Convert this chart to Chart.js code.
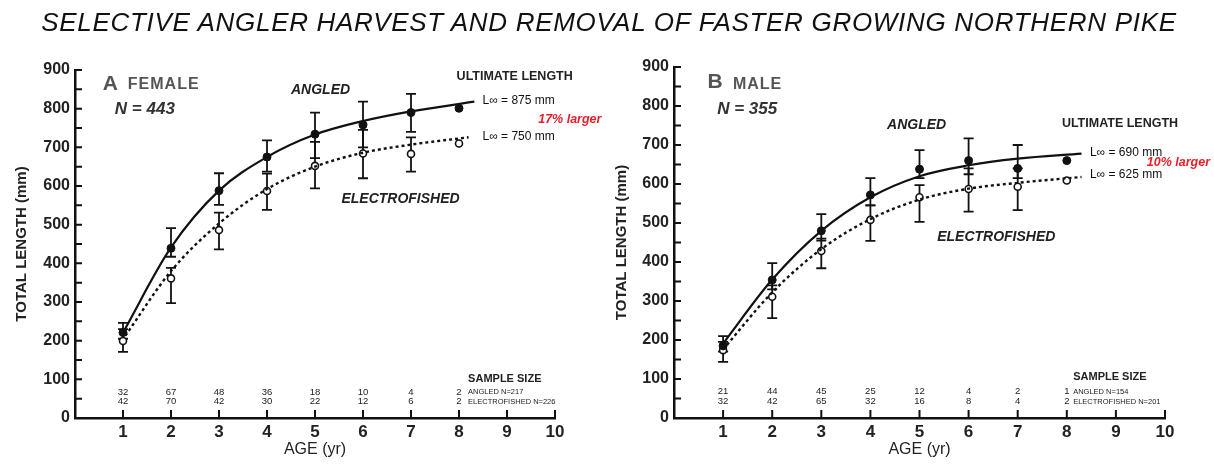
<!DOCTYPE html>
<html>
<head>
<meta charset="utf-8">
<script src="https://cdn.jsdelivr.net/npm/chart.js@4.4.1/dist/chart.umd.min.js"></script>
<style>
  body { margin: 0; background: #fff; width: 1214px; height: 464px; overflow: hidden; position: relative;
         font-family: "Liberation Sans", Arial, sans-serif; }
  #title { position: absolute; left: 0; top: 8px; width: 1218px; text-align: center; font-style: italic;
           font-size: 26px; line-height: 28px; letter-spacing: 0.7px; color: #111; z-index: 2; }
  .panel { position: absolute; top: 0; }
  .panel canvas { display: block; }
</style>
</head>
<body>
<div id="title">SELECTIVE ANGLER HARVEST AND REMOVAL OF FASTER GROWING NORTHERN PIKE</div>
<div class="panel" style="left:0"><canvas id="femaleChart" width="607" height="464"></canvas></div>
<div class="panel" style="left:607px"><canvas id="maleChart" width="607" height="464"></canvas></div>
<script>
// ages with measured means
const ages = [1, 2, 3, 4, 5, 6, 7, 8];

// A - female
const femaleAngled = [221, 439, 588, 675, 734, 758, 790, 801];
const femaleAngledLow = [205, 417, 551, 637, 672, 700, 740, null];
const femaleAngledHigh = [246, 491, 633, 718, 790, 818, 838, null];
const femaleElectro = [199, 361, 486, 587, 652, 684, 683, 710];
const femaleElectroLow = [171, 297, 436, 538, 594, 620, 637, null];
const femaleElectroHigh = [230, 388, 531, 632, 714, 745, 726, null];
const femaleAngledFitAge = [1, 2, 3, 4, 5, 6, 7, 8.32];
const femaleAngledFit = [221, 441, 588, 675, 733, 768, 793, 818];
const femaleElectroFitAge = [1.05, 2, 3, 4, 5, 6, 7, 8.2];
const femaleElectroFit = [213, 380, 503, 592, 650, 686, 707, 726];
const femaleAngledN = [32, 67, 48, 36, 18, 10, 4, 2];
const femaleElectroN = [42, 70, 42, 30, 22, 12, 6, 2];

// B - male
const maleAngled = [185, 354, 480, 572, 638, 660, 640, 660];
const maleAngledLow = [170, 330, 455, 545, 615, 625, 615, null];
const maleAngledHigh = [210, 397, 523, 615, 687, 717, 700, null];
const maleElectro = [174, 311, 428, 508, 566, 587, 593, 609];
const maleElectroLow = [144, 256, 384, 454, 503, 529, 533, null];
const maleElectroHigh = [195, 340, 460, 545, 597, 640, 640, null];
const maleAngledFitAge = [1, 2, 3, 4, 5, 6, 7, 8.3];
const maleAngledFit = [191, 355, 480, 566, 620, 648, 665, 678];
const maleElectroFitAge = [1, 2, 3, 4, 5, 6, 7, 8.3];
const maleElectroFit = [176, 322, 433, 510, 560, 588, 603, 618];
const maleAngledN = [21, 44, 45, 25, 12, 4, 2, 1];
const maleElectroN = [32, 42, 65, 32, 16, 8, 4, 2];

const FONT = '"Liberation Sans", Arial, sans-serif';
const INK = '#111';

function pts(xs, ys) {
    return xs.map((a, i) => ({ x: a, y: ys[i] }));
}

function panelPlugin(p) {
    return {
        id: 'panelExtras',
        beforeDatasetsDraw(chart) {
            const { ctx, scales: { x, y } } = chart;
            ctx.save();
            ctx.strokeStyle = INK;
            ctx.lineWidth = 1.8;
            [[p.angledLow, p.angledHigh], [p.electroLow, p.electroHigh]].forEach(([lo, hi]) => {
                ages.forEach((a, i) => {
                    if (lo[i] == null) return;
                    const px = x.getPixelForValue(a);
                    const y1 = y.getPixelForValue(lo[i]);
                    const y2 = y.getPixelForValue(hi[i]);
                    ctx.beginPath();
                    ctx.moveTo(px, y1); ctx.lineTo(px, y2);
                    ctx.moveTo(px - 5, y1); ctx.lineTo(px + 5, y1);
                    ctx.moveTo(px - 5, y2); ctx.lineTo(px + 5, y2);
                    ctx.stroke();
                });
            });
            ctx.restore();
        },
        afterDraw(chart) {
            const { ctx, chartArea, scales: { x, y } } = chart;
            ctx.save();
            // inward tick marks
            ctx.strokeStyle = INK;
            ctx.lineWidth = 2;
            ctx.beginPath();
            y.ticks.forEach(t => {
                const py = y.getPixelForValue(t.value);
                ctx.moveTo(chartArea.left, py);
                ctx.lineTo(chartArea.left + 7, py);
            });
            x.ticks.forEach(t => {
                if (t.value === 0) return;
                const px = x.getPixelForValue(t.value);
                ctx.moveTo(px, chartArea.bottom);
                ctx.lineTo(px, chartArea.bottom - 8);
            });
            ctx.stroke();

            // sample sizes
            ctx.textAlign = 'center';
            ctx.textBaseline = 'middle';
            ctx.fillStyle = '#222';
            ctx.font = '9.5px ' + FONT;
            ages.forEach((a, i) => {
                ctx.fillText(p.angledN[i], x.getPixelForValue(a), y.getPixelForValue(67));
                ctx.fillText(p.electroN[i], x.getPixelForValue(a), y.getPixelForValue(42));
            });

            // annotations
            p.notes.forEach(n => {
                const [str, a, v, font, color, spacing] = n;
                ctx.font = font + ' ' + FONT;
                ctx.fillStyle = color;
                ctx.textAlign = 'left';
                ctx.letterSpacing = (spacing || 0) + 'px';
                ctx.fillText(str, x.getPixelForValue(a), y.getPixelForValue(v));
            });
            ctx.restore();
        }
    };
}

function makeChart(canvasId, p) {
    return new Chart(document.getElementById(canvasId), {
        type: 'scatter',
        data: {
            datasets: [
                {
                    data: pts(p.angledFitAge, p.angledFit), showLine: true, borderColor: INK,
                    borderWidth: 2.2, pointRadius: 0, cubicInterpolationMode: 'monotone'
                },
                {
                    data: pts(p.electroFitAge, p.electroFit), showLine: true, borderColor: INK,
                    borderWidth: 2.4, borderDash: [3, 3], pointRadius: 0, cubicInterpolationMode: 'monotone'
                },
                {
                    data: pts(ages, p.angled), pointRadius: 4, pointBackgroundColor: INK,
                    pointBorderColor: INK, pointBorderWidth: 1
                },
                {
                    data: pts(ages, p.electro), pointRadius: 3.5, pointBackgroundColor: '#fff',
                    pointBorderColor: INK, pointBorderWidth: 1.6
                }
            ]
        },
        options: {
            responsive: false,
            animation: false,
            layout: { padding: { top: p.top, right: p.right, left: 0, bottom: 0 } },
            plugins: { legend: { display: false }, tooltip: { enabled: false } },
            scales: {
                x: {
                    type: 'linear', min: 0, max: 10,
                    afterFit: s => { s.height = 464 - p.bottom; },
                    grid: { display: false, drawTicks: false },
                    border: { color: INK, width: 2.5 },
                    ticks: {
                        stepSize: 1, padding: 4, color: '#222', maxRotation: 0, autoSkip: false,
                        font: { family: FONT, size: 17, weight: 'bold' },
                        callback: v => v === 0 ? '' : v
                    },
                    title: {
                        display: true, text: 'AGE (yr)', color: '#222',
                        font: { family: FONT, size: 16 }, padding: { bottom: 5 }
                    }
                },
                y: {
                    min: 0, max: 900,
                    afterFit: s => { s.width = p.left; },
                    grid: { display: false, drawTicks: false },
                    border: { color: INK, width: 2.5 },
                    ticks: {
                        stepSize: 50, padding: 5, color: '#222', autoSkip: false,
                        font: { family: FONT, size: 16, weight: 'bold' },
                        callback: v => v % 100 === 0 ? v : ''
                    },
                    title: {
                        display: true, text: 'TOTAL LENGTH (mm)', color: '#222',
                        font: { family: FONT, size: 15, weight: 'bold' }, padding: { top: p.yTitlePad }
                    }
                }
            }
        },
        plugins: [panelPlugin(p)]
    });
}

makeChart('femaleChart', {
    angled: femaleAngled, angledLow: femaleAngledLow, angledHigh: femaleAngledHigh,
    electro: femaleElectro, electroLow: femaleElectroLow, electroHigh: femaleElectroHigh,
    angledFitAge: femaleAngledFitAge, angledFit: femaleAngledFit,
    electroFitAge: femaleElectroFitAge, electroFit: femaleElectroFit,
    angledN: femaleAngledN, electroN: femaleElectroN,
    top: 70, bottom: 418, left: 75, right: 52, yTitlePad: 13,
    notes: [
        ['A', 0.58, 864, 'bold 21px', '#555'],
        ['FEMALE', 1.10, 861, 'bold 16px', '#555', 1],
        ['N = 443', 0.83, 798, 'italic bold 17px', '#333'],
        ['ANGLED', 4.5, 847, 'italic bold 14px', '#222'],
        ['ELECTROFISHED', 5.55, 566, 'italic bold 14px', '#222'],
        ['ULTIMATE LENGTH', 7.95, 884, 'bold 12.5px', '#222'],
        ['L\u221E = 875 mm', 8.49, 820, '12px', INK],
        ['17% larger', 9.65, 771, 'italic bold 12.5px', '#e8202a'],
        ['L\u221E = 750 mm', 8.49, 727, '12px', INK],
        ['SAMPLE SIZE', 8.19, 102, 'bold 11px', '#222'],
        ['ANGLED N=217', 8.19, 67, '7.5px', '#222'],
        ['ELECTROFISHED N=226', 8.19, 41, '7.5px', '#222']
    ]
});

makeChart('maleChart', {
    angled: maleAngled, angledLow: maleAngledLow, angledHigh: maleAngledHigh,
    electro: maleElectro, electroLow: maleElectroLow, electroHigh: maleElectroHigh,
    angledFitAge: maleAngledFitAge, angledFit: maleAngledFit,
    electroFitAge: maleElectroFitAge, electroFit: maleElectroFit,
    angledN: maleAngledN, electroN: maleElectroN,
    top: 67, bottom: 418, left: 67, right: 49, yTitlePad: 6,
    notes: [
        ['B', 0.68, 861, 'bold 21px', '#555'],
        ['MALE', 1.20, 854, 'bold 16px', '#555', 1],
        ['N = 355', 0.88, 792, 'italic bold 17px', '#333'],
        ['ANGLED', 4.34, 750, 'italic bold 14px', '#222'],
        ['ELECTROFISHED', 5.36, 463, 'italic bold 14px', '#222'],
        ['ULTIMATE LENGTH', 7.90, 756, 'bold 12.5px', '#222'],
        ['L\u221E = 690 mm', 8.47, 681, '12px', INK],
        ['10% larger', 9.63, 655, 'italic bold 12.5px', '#e8202a'],
        ['L\u221E = 625 mm', 8.47, 623, '12px', INK],
        ['SAMPLE SIZE', 8.13, 104, 'bold 11px', '#222'],
        ['ANGLED N=154', 8.13, 67, '7.5px', '#222'],
        ['ELECTROFISHED N=201', 8.13, 41, '7.5px', '#222']
    ]
});
</script>
</body>
</html>
